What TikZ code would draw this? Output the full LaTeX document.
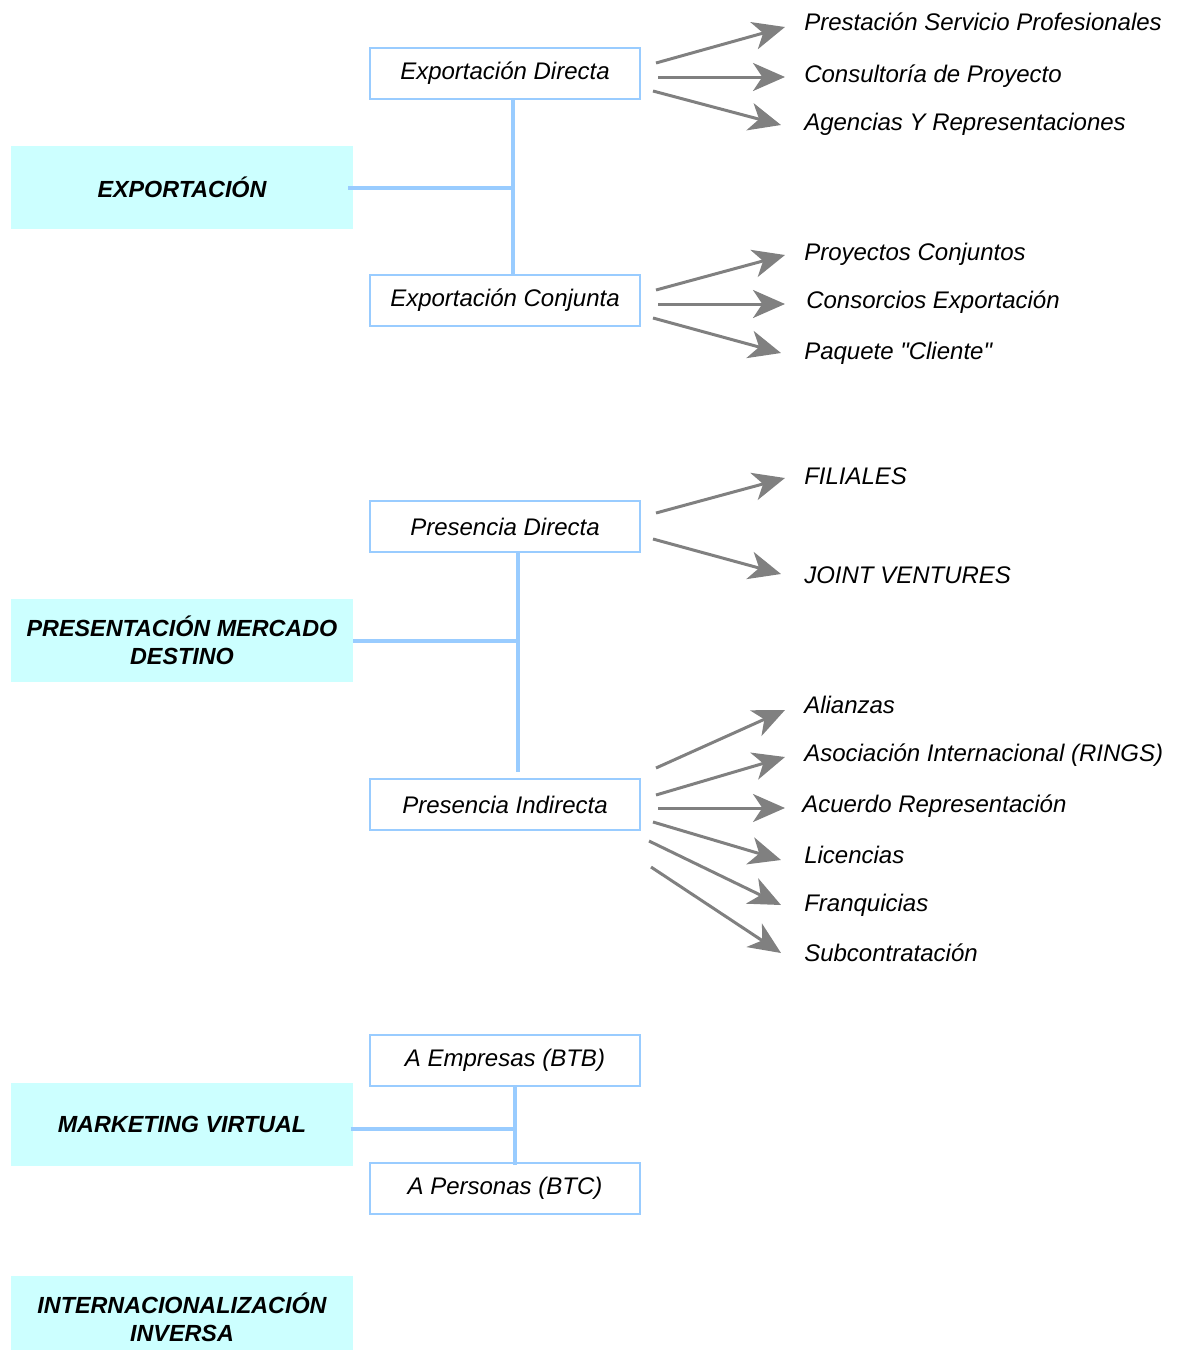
\documentclass[tikz,border=0pt]{standalone}
\usepackage{fontspec}
\setmainfont{Liberation Sans}[Ligatures=TeXOff]
\usetikzlibrary{arrows.meta,calc}
\definecolor{cajafondo}{HTML}{CCFFFF}
\definecolor{lineaazul}{HTML}{99CCFF}
\definecolor{flechagris}{HTML}{808080}
\tikzset{
	tipo/.style={fill=cajafondo, minimum width=256.5pt, minimum height=62.25pt, align=center, font=\fontsize{17.5}{21}\selectfont\bfseries\itshape},
	modo/.style={draw=lineaazul, line width=1.5pt, fill=white, minimum width=202.5pt, minimum height=38.25pt, font=\fontsize{18}{21}\selectfont\itshape},
	opcion/.style={anchor=base west, inner sep=0pt, font=\fontsize{18}{21}\selectfont\itshape},
	rama/.style={draw=lineaazul, line width=3pt},
	flecha/.style={draw=flechagris, line width=2.25pt, -{Stealth[length=24pt,width=21pt,inset=7pt]}},
}
\begin{document}
\begin{tikzpicture}[x=0.75pt,y=-0.75pt]
			\useasboundingbox (0,0) rectangle (1186,1350);
			% tipos de internacionalizacion
			\node[tipo] (exp) at (182,187.5) {EXPORTACIÓN};
			\node[tipo] (pre) at (182,640.5) {PRESENTACIÓN MERCADO\\DESTINO};
			\node[tipo] (mkt) at (182,1124.5) {MARKETING VIRTUAL};
			\node[tipo] (inv) at (182,1317.5) {INTERNACIONALIZACIÓN\\INVERSA};
			% modos
			\node[modo] (expdir) at (505,73.5) {Exportación Directa};
			\node[modo] (expcon) at (505,300.5) {Exportación Conjunta};
			\node[modo] (predir) at (505,526.5) {Presencia Directa};
			\node[modo] (preind) at (505,804.5) {Presencia Indirecta};
			\node[modo] (btb) at (505,1060.5) {A Empresas (BTB)};
			\node[modo] (btc) at (505,1188.5) {A Personas (BTC)};
			% ramas
			\coordinate (jexp) at (513,188);
			\coordinate (jpre) at (518,641);
			\coordinate (fpre) at (518,772);
			\coordinate (jmkt) at (515,1129);
			\draw[rama] ([xshift=-3.75pt]exp.east |- jexp) -- (jexp);
			\draw[rama] (expdir.south -| jexp) -- (expcon.north -| jexp);
			\draw[rama] (pre.east |- jpre) -- (jpre);
			\draw[rama] (predir.south -| jpre) -- (fpre);
			\draw[rama] ([xshift=-2pt]mkt.east |- jmkt) -- (jmkt);
			\draw[rama] (btb.south -| jmkt) -- ([yshift=-2pt]btc.north -| jmkt);
			% opciones
			\node[opcion] (o1) at (804,30) {Prestación Servicio Profesionales};
			\node[opcion] (o2) at (804,82) {Consultoría de Proyecto};
			\node[opcion] (o3) at (804,130) {Agencias Y Representaciones};
			\node[opcion] (o4) at (804,260) {Proyectos Conjuntos};
			\node[opcion] (o5) at (806,308) {Consorcios Exportación};
			\node[opcion] (o6) at (804,359) {Paquete "Cliente"};
			\node[opcion] (o7) at (804,484) {FILIALES};
			\node[opcion] (o8) at (804,583) {JOINT VENTURES};
			\node[opcion] (o9) at (804,713) {Alianzas};
			\node[opcion] (o10) at (804,761) {Asociación Internacional (RINGS)};
			\node[opcion] (o11) at (802,812) {Acuerdo Representación};
			\node[opcion] (o12) at (804,863) {Licencias};
			\node[opcion] (o13) at (804,911) {Franquicias};
			\node[opcion] (o14) at (804,961) {Subcontratación};
			% flechas
			\draw[flecha] ([shift={(15,-10.5)}]expdir.east) -- ([shift={(-19,-3)}]o1.base west);
			\draw[flecha] ([shift={(17,3.5)}]expdir.east) -- ([shift={(-19,-5)}]o2.base west);
			\draw[flecha] ([shift={(12,17.5)}]expdir.east) -- ([shift={(-23,-5)}]o3.base west);
			\draw[flecha] ([shift={(15,-10.5)}]expcon.east) -- ([shift={(-19,-5)}]o4.base west);
			\draw[flecha] ([shift={(17,3.5)}]expcon.east) -- ([shift={(-21,-4)}]o5.base west);
			\draw[flecha] ([shift={(12,17.5)}]expcon.east) -- ([shift={(-23,-6)}]o6.base west);
			\draw[flecha] ([shift={(15,-13.5)}]predir.east) -- ([shift={(-19,-6)}]o7.base west);
			\draw[flecha] ([shift={(12,12.5)}]predir.east) -- ([shift={(-23,-9)}]o8.base west);
			\draw[flecha] ([shift={(15,-36.5)}]preind.east) -- ([shift={(-19,-3)}]o9.base west);
			\draw[flecha] ([shift={(15,-9.5)}]preind.east) -- ([shift={(-19,-4)}]o10.base west);
			\draw[flecha] ([shift={(17,3.5)}]preind.east) -- ([shift={(-17,-4)}]o11.base west);
			\draw[flecha] ([shift={(12,17.5)}]preind.east) -- ([shift={(-23,-3)}]o12.base west);
			\draw[flecha] ([shift={(8,36.5)}]preind.east) -- ([shift={(-23,-6)}]o13.base west);
			\draw[flecha] ([shift={(10,62.5)}]preind.east) -- ([shift={(-23,-8)}]o14.base west);
\end{tikzpicture}
\end{document}
